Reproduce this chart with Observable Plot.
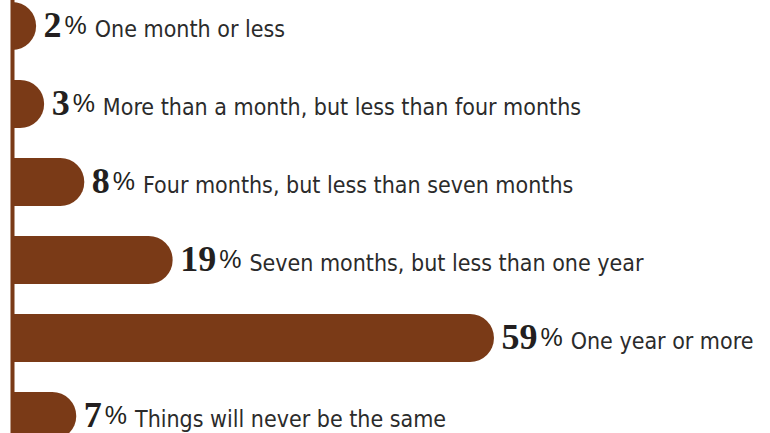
<!DOCTYPE html>
<html>
<head>
<meta charset="utf-8">
<script src="https://cdn.jsdelivr.net/npm/d3@7"></script>
<script src="https://cdn.jsdelivr.net/npm/@observablehq/plot@0.6"></script>
<style>
  html, body { margin: 0; padding: 0; background: #fff; }
  #chart svg { display: block; }
</style>
</head>
<body>
<div id="chart"></div>
<script>
const categories = [
  "One month or less",
  "More than a month, but less than four months",
  "Four months, but less than seven months",
  "Seven months, but less than one year",
  "One year or more",
  "Things will never be the same"
];
const values = [2, 3, 8, 19, 59, 7];

const data = categories.map((label, i) => ({label, value: values[i]}));
const brown = "#7a3a17";
const xMin = -1;

const chart = Plot.plot({
  width: 770,
  height: 433,
  marginLeft: 12,
  marginRight: 268,
  marginTop: 0,
  marginBottom: 0,
  x: {domain: [xMin, 60], axis: null},
  y: {type: "band", domain: categories, range: [-13, 455], paddingInner: 0.385, paddingOuter: 0.1925, axis: null},
  marks: [
    Plot.barX(data, {x1: xMin, x2: "value", y: "label", fill: brown, rx: 24, insetLeft: -30, clip: true}),
    Plot.ruleX([xMin], {stroke: brown, strokeWidth: 4}),
    Plot.text(data, {
      x: "value", y: "label",
      text: d => `${d.value}|${d.label}`,
      textAnchor: "start", dx: 7, dy: -1.5,
      fontSize: 36, fontWeight: "bold",
      fontFamily: "'Liberation Serif', serif",
      fill: "#231f20"
    })
  ]
});

document.getElementById("chart").appendChild(chart);

// split each label into number, percent sign and description
d3.select(chart).selectAll("g[aria-label='text'] text").each(function() {
  const [num, label] = this.textContent.split("|");
  const t = d3.select(this);
  t.text(null);
  t.append("tspan").text(num);
  t.append("tspan")
    .attr("dx", 3).attr("dy", -3)
    .attr("font-family", "'Liberation Sans', sans-serif")
    .attr("font-weight", "normal")
    .attr("font-size", 25)
    .text("%");
  t.append("tspan")
    .attr("dx", 8).attr("dy", 3)
    .attr("font-family", "'DejaVu Sans Condensed', 'DejaVu Sans', sans-serif")
    .attr("font-weight", "normal")
    .attr("font-size", 23)
    .attr("fill", "#2b2b2b")
    .text(label);
});
</script>
</body>
</html>
